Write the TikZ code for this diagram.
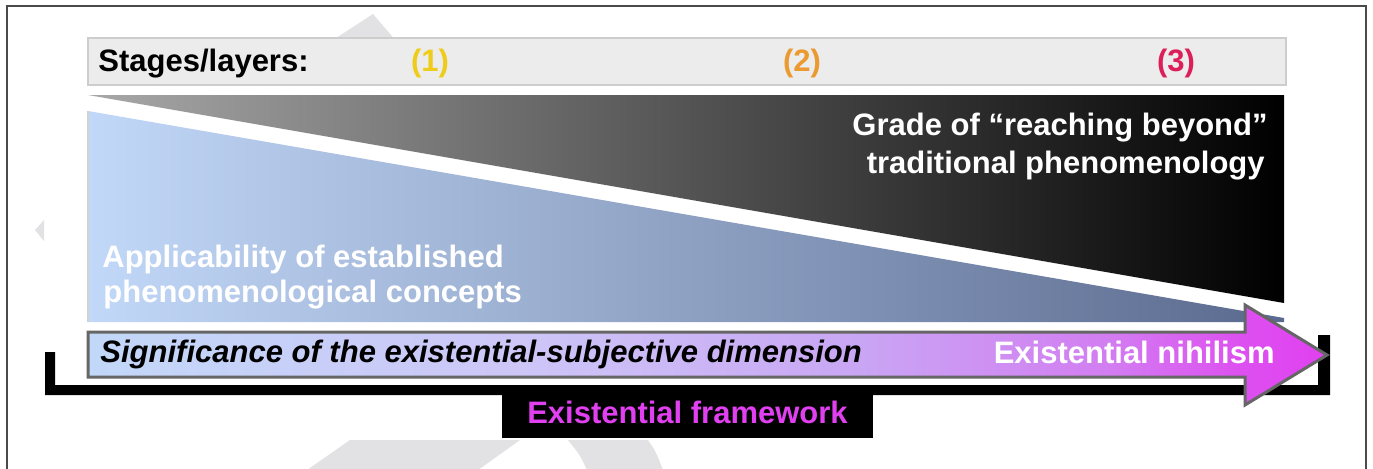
\documentclass[tikz,border=0pt]{standalone}
\usepackage{fontspec}
\setmainfont{Liberation Sans}
\definecolor{wm}{HTML}{E2E2E4}
\definecolor{framec}{HTML}{4A4A4A}
\definecolor{barfill}{HTML}{ECECEC}
\definecolor{barline}{HTML}{CDCDCD}
\definecolor{sone}{HTML}{F0CC1A}
\definecolor{stwo}{HTML}{EB9A30}
\definecolor{sthree}{HTML}{DC1E5A}
\definecolor{mag}{HTML}{E040F0}
\definecolor{arrowline}{HTML}{666666}
\definecolor{grayL}{HTML}{A8A8A8}
\definecolor{grayM}{HTML}{606060}
\definecolor{grayR}{HTML}{000000}
\definecolor{blueL}{HTML}{C2D8F8}
\definecolor{blueM}{HTML}{9CB0D8}
\definecolor{blueR}{HTML}{5A6A8E}
\definecolor{arA}{HTML}{CDC6F7}
\definecolor{arB}{HTML}{C9A6F4}
\definecolor{arC}{HTML}{D27EF1}
\definecolor{arD}{HTML}{DD50F0}
\pgfdeclarehorizontalshading{arrowshade}{100bp}{%
  color(0bp)=(blueL);
  color(25bp)=(blueL);
  color(42.5bp)=(arA);
  color(56bp)=(arB);
  color(66bp)=(arC);
  color(71.5bp)=(arD);
  color(75bp)=(mag);
  color(100bp)=(mag)}
\begin{document}
\begin{tikzpicture}[x=0.5pt,y=-0.5pt,
  txt/.style={inner sep=0pt, font=\fontsize{15.5}{18}\selectfont\bfseries},
  itxt/.style={inner sep=0pt, font=\fontsize{15.5}{18}\selectfont\bfseries\itshape},
  wmark/.style={fill=wm, draw=none}]
\useasboundingbox (0,0) rectangle (1373,468);
\fill[white] (0,0) rectangle (1373,468);
% watermark fragments
\fill[wmark] (330,42) -- (373,14) -- (397,42) -- cycle;
\fill[wmark] (35,230) -- (44,220) -- (44,241) -- cycle;
\fill[wmark] (307,470) -- (350,440) -- (520,440) -- (478,470) -- cycle;
\fill[wmark] (568,440) -- (648,440) .. controls (656,452) .. (663,470) -- (587,470) .. controls (580,455) .. (568,440) -- cycle;
% outer frame
\draw[framec, line width=1pt] (7,470) -- (7,6) -- (1366,6) -- (1366,470);
% stages bar
\draw[draw=barline, fill=barfill, line width=1pt] (88,38) rectangle (1286,85);
\node[txt, anchor=base west] (stages) at (98,71) {Stages/layers:};
\node[txt, anchor=base, text=sone] (s1) at (430,71) {(1)};
\node[txt, anchor=base, text=stwo] (s2) at (802,71) {(2)};
\node[txt, anchor=base, text=sthree] (s3) at (1176,71) {(3)};
% dark triangle
\shade[left color=grayL, middle color=grayM, right color=grayR] (88,95) -- (1284,95) -- (1284,303) -- cycle;
\node[txt, text=white, anchor=base east] (g1) at (1268,135) {Grade of “reaching beyond”};
\node[txt, text=white, anchor=base east] (g2) at (1265,173) {traditional phenomenology};
% blue triangle
\shade[left color=blueL, middle color=blueM, right color=blueR] (88,111) -- (1284,318) -- (1284,322) -- (88,322) -- cycle;
\draw[gray!35, line width=1pt] (88,111) -- (88,322);
\node[txt, text=white, anchor=base west] (a1) at (102,267) {Applicability of established};
\node[txt, text=white, anchor=base west] (a2) at (103,302) {phenomenological concepts};
% bracket
\fill[black] (45,352) -- (55,352) -- (55,385) -- (1318,385) -- (1318,335) -- (1330,335) -- (1330,395) -- (45,395) -- cycle;
\fill[black] (502,385) rectangle (873,438);
\node[txt, text=mag, anchor=base] (fw) at (687.5,423) {Existential framework};
% arrow
\shadedraw[shading=arrowshade, draw=arrowline, line width=1.5pt, line join=miter]
  (88,332) -- (1245,332) -- (1245,305) -- (1327,355) -- (1245,405) -- (1245,377) -- (88,377) -- cycle;
\node[itxt, anchor=base west] (sig) at (100,362) {Significance of the existential-subjective dimension};
\node[txt, text=white, anchor=base east] (nih) at (1275,363) {Existential nihilism};
\end{tikzpicture}
\end{document}
